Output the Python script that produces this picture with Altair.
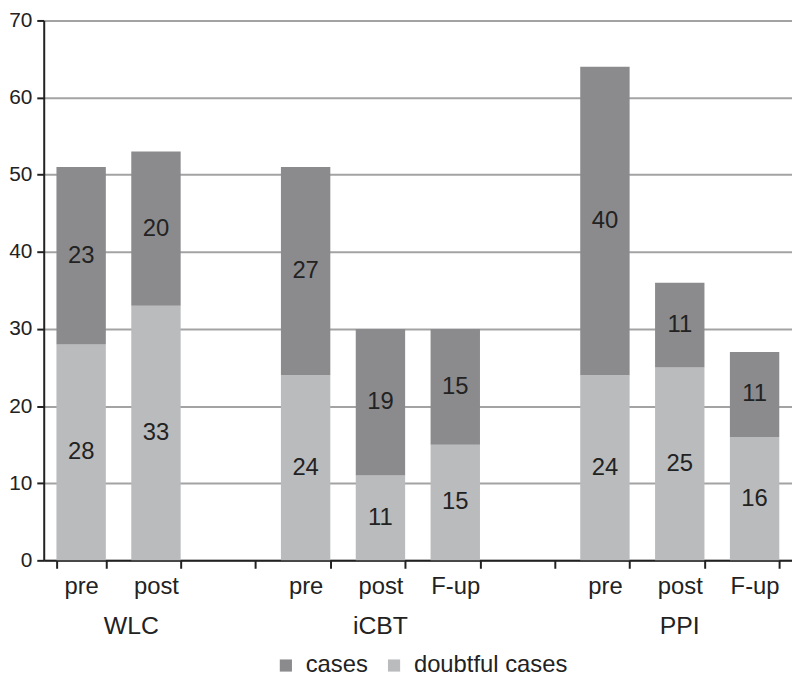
import altair as alt
import pandas as pd

groups = ["WLC", "WLC", "iCBT", "iCBT", "iCBT", "PPI", "PPI", "PPI"]
times = ["pre", "post", "pre", "post", "F-up", "pre", "post", "F-up"]
cases = [23, 20, 27, 19, 15, 40, 11, 11]
doubtful = [28, 33, 24, 11, 15, 24, 25, 16]
series_names = ["cases", "doubtful cases"]
slot_order = ["WLC|pre", "WLC|post", "gap1|", "iCBT|pre", "iCBT|post", "iCBT|F-up",
              "gap2|", "PPI|pre", "PPI|post", "PPI|F-up"]
group_labels = ["WLC", "iCBT", "PPI"]
group_anchor = ["WLC|post", "iCBT|post", "PPI|post"]

DARK = "#8b8b8d"
LIGHT = "#babbbd"
FONT = "Liberation Sans"

rows = []
for g, t, c, d in zip(groups, times, cases, doubtful):
    key = f"{g}|{t}"
    rows.append({"slot": key, "series": "doubtful cases", "ord": 0, "value": d})
    rows.append({"slot": key, "series": "cases", "ord": 1, "value": c})
df = pd.DataFrame(rows)

xscale = alt.Scale(domain=slot_order, paddingInner=0.34, paddingOuter=0.17)

base = alt.Chart(df).transform_stack(
    stack="value", groupby=["slot"], as_=["y0", "y1"],
    sort=[alt.SortField("ord", order="ascending")]
).transform_calculate(mid="(datum.y0 + datum.y1) / 2")

xenc = alt.X("slot:N", scale=xscale, sort=slot_order, title=None,
             axis=alt.Axis(labelExpr="split(datum.value, '|')[1]", labelAngle=0,
                           tickBand="extent", tickSize=8, tickColor="#222222",
                           tickWidth=2, domainColor="#222222", domainWidth=2,
                           labelFontSize=24, labelFont=FONT, labelColor="#222222",
                           labelPadding=6, grid=False))

bars = base.mark_bar().encode(
    x=xenc,
    y=alt.Y("y0:Q", scale=alt.Scale(domain=[0, 70], nice=False), title=None,
            axis=alt.Axis(values=list(range(0, 71, 10)), grid=True, gridColor="#a3a3a3",
                          gridWidth=2, tickSize=7, tickColor="#222222", tickWidth=2,
                          domainColor="#222222", domainWidth=2, labelFontSize=21,
                          labelFont=FONT, labelColor="#222222", labelPadding=5)),
    y2="y1:Q",
    color=alt.Color("series:N",
                    scale=alt.Scale(domain=series_names, range=[DARK, LIGHT]),
                    legend=alt.Legend(orient="none", legendX=232, legendY=638,
                                      direction="horizontal", title=None,
                                      symbolType="square", symbolSize=150,
                                      symbolStrokeWidth=0, symbolOpacity=1,
                                      labelFontSize=24, labelFont=FONT,
                                      labelColor="#222222", labelOffset=8,
                                      columnPadding=14, padding=0)),
)

labels = base.mark_text(fontSize=24, font=FONT, color="#222222", baseline="middle").encode(
    x=alt.X("slot:N", scale=xscale, sort=slot_order),
    y=alt.Y("mid:Q"),
    text=alt.Text("value:Q"),
)

gdf1 = pd.DataFrame({"label": group_labels[:1], "slot": group_anchor[:1]})
gdf2 = pd.DataFrame({"label": group_labels[1:], "slot": group_anchor[1:]})

glab1 = alt.Chart(gdf1).mark_text(fontSize=25, font=FONT, color="#222222", baseline="middle").encode(
    x=alt.X("slot:N", scale=xscale, sort=slot_order, bandPosition=0),
    y=alt.value(610),
    text="label:N",
)
glab2 = alt.Chart(gdf2).mark_text(fontSize=25, font=FONT, color="#222222", baseline="middle").encode(
    x=alt.X("slot:N", scale=xscale, sort=slot_order),
    y=alt.value(610),
    text="label:N",
)

chart = alt.layer(bars, labels, glab1, glab2).properties(
    width=754, height=544,
    autosize=alt.AutoSizeParams(type="none"),
    padding={"left": 36, "top": 10, "right": 0, "bottom": 114},
).configure_view(stroke=None).configure(background="white")

chart.save("out.html", embed_options={"renderer": "svg", "actions": False})
